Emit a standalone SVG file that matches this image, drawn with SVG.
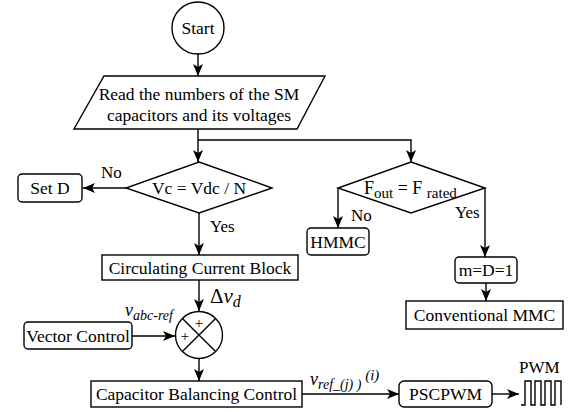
<svg xmlns="http://www.w3.org/2000/svg" width="569" height="412" viewBox="0 0 569 412">
<style>
.s{fill:#fff;stroke:#000;stroke-width:1.4}
text{font-family:'Liberation Serif','DejaVu Serif','Times New Roman',serif;fill:#000}
.t{font-size:17.5px;text-anchor:middle}
.l{font-size:17px}
.c{fill:none;stroke:#000;stroke-width:1.4}
</style>
<defs>
<marker id="a" viewBox="0 0 12 10" refX="12" refY="5" markerWidth="12" markerHeight="10" markerUnits="userSpaceOnUse" orient="auto">
<path d="M0,0 L12,5 L0,10 L3,5 Z" fill="#000"/>
</marker>
</defs>
<rect width="569" height="412" fill="#fff"/>
<g id="connectors">
<path class="c" d="M198,54 V76" marker-end="url(#a)"/>
<path class="c" d="M198,129 V140 H411 V162" marker-end="url(#a)"/>
<path class="c" d="M198,140 V162" marker-end="url(#a)"/>
<path class="c" d="M126,188 H83" marker-end="url(#a)"/>
<path class="c" d="M199,213 V255" marker-end="url(#a)"/>
<path class="c" d="M338,188 V228" marker-end="url(#a)"/>
<path class="c" d="M485,188 V257" marker-end="url(#a)"/>
<path class="c" d="M486,283 V301" marker-end="url(#a)"/>
<path class="c" d="M199,280 V311" marker-end="url(#a)"/>
<path class="c" d="M132,336 H175" marker-end="url(#a)"/>
<path class="c" d="M199,359 V381" marker-end="url(#a)"/>
<path class="c" d="M302,394 H399" marker-end="url(#a)"/>
<path class="c" d="M492,394 H519" marker-end="url(#a)"/>
<text class="l" x="101" y="178">No</text>
<text class="l" x="210" y="232">Yes</text>
<text class="l" x="351" y="221">No</text>
<text class="l" x="455" y="218">Yes</text>
<text x="210" y="303" style="font-size:21px">Δ<tspan style="font-style:italic">v</tspan><tspan style="font-style:italic;font-size:16px" dy="4">d</tspan></text>
<text x="125" y="316" style="font-size:18px;font-style:italic">v<tspan style="font-size:14px" dy="4">abc-ref</tspan></text>
<text x="310" y="385" style="font-size:18px;font-style:italic">v<tspan style="font-size:14px" dy="4">ref_(j) )</tspan><tspan style="font-size:15px" dy="-9"> (i)</tspan></text>
<text class="l" x="519" y="373">PWM</text>
<path class="c" d="M521,405 H525 V381 H531 V405 H535 V381 H541 V405 H545 V381 H551 V405 H555 V381 H561 V405"/>
</g>
<g id="start">
<circle class="s" cx="198" cy="28" r="26"/>
<text class="t" x="198" y="34">Start</text>
</g>
<g id="read">
<polygon class="s" points="104,76 325,76 297,129 74,129"/>
<text class="t" x="199" y="100">Read the numbers of the SM</text>
<text class="t" x="199" y="121">capacitors and its voltages</text>
</g>
<g id="d1">
<polygon class="s" points="199,162 272,188 199,213 126,188"/>
<text class="t" x="199" y="194">Vc = Vdc / N</text>
</g>
<g id="setd">
<rect class="s" x="18" y="174" width="64" height="28" rx="4"/>
<text class="t" x="50" y="194">Set D</text>
</g>
<g id="d2">
<polygon class="s" points="411,162 485,188 411,213 338,188"/>
<text x="364" y="194" style="font-size:18px">F<tspan style="font-size:15px" dy="4">out</tspan><tspan dy="-4"> = F </tspan><tspan style="font-size:15px" dy="4">rated</tspan></text>
</g>
<g id="hmmc">
<rect class="s" x="307" y="228" width="62" height="27" rx="4"/>
<text class="t" x="338" y="248">HMMC</text>
</g>
<g id="mdd">
<rect class="s" x="455" y="257" width="62" height="26" rx="4"/>
<text class="t" x="486" y="276">m=D=1</text>
</g>
<g id="conv">
<rect class="s" x="406" y="301" width="157" height="28"/>
<text class="t" x="484.5" y="321">Conventional MMC</text>
</g>
<g id="ccb">
<rect class="s" x="102" y="255" width="196" height="25"/>
<text class="t" x="200" y="274">Circulating Current Block</text>
</g>
<g id="sum">
<circle class="s" cx="199" cy="335" r="23.5"/>
<path class="c" d="M182.4,318.4 L215.6,351.6 M215.6,318.4 L182.4,351.6"/>
<text class="t" x="199" y="328" style="font-size:15px">+</text>
<text class="t" x="185" y="341" style="font-size:15px">+</text>
</g>
<g id="vec">
<rect class="s" x="24" y="322" width="108" height="27" rx="4"/>
<text class="t" x="78" y="342">Vector Control</text>
</g>
<g id="cbc">
<rect class="s" x="91" y="381" width="211" height="26"/>
<text class="t" x="196.5" y="400">Capacitor Balancing Control</text>
</g>
<g id="pscpwm">
<rect class="s" x="399" y="381" width="93" height="26" rx="5"/>
<text class="t" x="445.5" y="400">PSCPWM</text>
</g>
</svg>
